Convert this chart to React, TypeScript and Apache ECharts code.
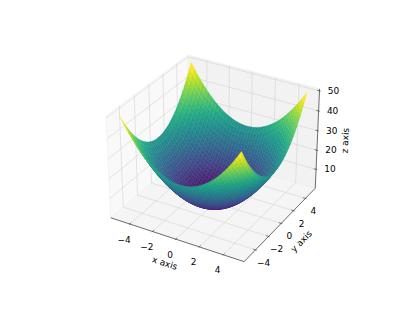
import React, { useEffect, useRef } from "react";
import * as echarts from "echarts";

const gridX = [-5,-4.75,-4.5,-4.25,-4,-3.75,-3.5,-3.25,-3,-2.75,-2.5,-2.25,-2,-1.75,-1.5,-1.25,-1,-0.75,-0.5,-0.25,0,0.25,0.5,0.75,1,1.25,1.5,1.75,2,2.25,2.5,2.75,3,3.25,3.5,3.75,4,4.25,4.5,4.75,5];
const gridY = gridX;
const r0=[50,47.56,45.25,43.06,41,39.06,37.25,35.56,34,32.56,31.25,30.06,29,28.06,27.25,26.56,26,25.56,25.25,25.06,25,25.06,25.25,25.56,26,26.56,27.25,28.06,29,30.06,31.25,32.56,34,35.56,37.25,39.06,41,43.06,45.25,47.56,50];
const r1=[47.56,45.13,42.81,40.63,38.56,36.63,34.81,33.13,31.56,30.13,28.81,27.63,26.56,25.63,24.81,24.13,23.56,23.13,22.81,22.63,22.56,22.63,22.81,23.13,23.56,24.13,24.81,25.63,26.56,27.63,28.81,30.13,31.56,33.13,34.81,36.63,38.56,40.63,42.81,45.13,47.56];
const r2=[45.25,42.81,40.5,38.31,36.25,34.31,32.5,30.81,29.25,27.81,26.5,25.31,24.25,23.31,22.5,21.81,21.25,20.81,20.5,20.31,20.25,20.31,20.5,20.81,21.25,21.81,22.5,23.31,24.25,25.31,26.5,27.81,29.25,30.81,32.5,34.31,36.25,38.31,40.5,42.81,45.25];
const r3=[43.06,40.63,38.31,36.13,34.06,32.13,30.31,28.63,27.06,25.63,24.31,23.13,22.06,21.13,20.31,19.63,19.06,18.63,18.31,18.13,18.06,18.13,18.31,18.63,19.06,19.63,20.31,21.13,22.06,23.13,24.31,25.63,27.06,28.63,30.31,32.13,34.06,36.13,38.31,40.63,43.06];
const r4=[41,38.56,36.25,34.06,32,30.06,28.25,26.56,25,23.56,22.25,21.06,20,19.06,18.25,17.56,17,16.56,16.25,16.06,16,16.06,16.25,16.56,17,17.56,18.25,19.06,20,21.06,22.25,23.56,25,26.56,28.25,30.06,32,34.06,36.25,38.56,41];
const r5=[39.06,36.63,34.31,32.13,30.06,28.13,26.31,24.63,23.06,21.63,20.31,19.13,18.06,17.13,16.31,15.63,15.06,14.63,14.31,14.13,14.06,14.13,14.31,14.63,15.06,15.63,16.31,17.13,18.06,19.13,20.31,21.63,23.06,24.63,26.31,28.13,30.06,32.13,34.31,36.63,39.06];
const r6=[37.25,34.81,32.5,30.31,28.25,26.31,24.5,22.81,21.25,19.81,18.5,17.31,16.25,15.31,14.5,13.81,13.25,12.81,12.5,12.31,12.25,12.31,12.5,12.81,13.25,13.81,14.5,15.31,16.25,17.31,18.5,19.81,21.25,22.81,24.5,26.31,28.25,30.31,32.5,34.81,37.25];
const r7=[35.56,33.13,30.81,28.63,26.56,24.63,22.81,21.13,19.56,18.13,16.81,15.63,14.56,13.63,12.81,12.13,11.56,11.13,10.81,10.63,10.56,10.63,10.81,11.13,11.56,12.13,12.81,13.63,14.56,15.63,16.81,18.13,19.56,21.13,22.81,24.63,26.56,28.63,30.81,33.13,35.56];
const r8=[34,31.56,29.25,27.06,25,23.06,21.25,19.56,18,16.56,15.25,14.06,13,12.06,11.25,10.56,10,9.56,9.25,9.06,9,9.06,9.25,9.56,10,10.56,11.25,12.06,13,14.06,15.25,16.56,18,19.56,21.25,23.06,25,27.06,29.25,31.56,34];
const r9=[32.56,30.13,27.81,25.63,23.56,21.63,19.81,18.13,16.56,15.13,13.81,12.63,11.56,10.63,9.81,9.13,8.56,8.13,7.81,7.63,7.56,7.63,7.81,8.13,8.56,9.13,9.81,10.63,11.56,12.63,13.81,15.13,16.56,18.13,19.81,21.63,23.56,25.63,27.81,30.13,32.56];
const r10=[31.25,28.81,26.5,24.31,22.25,20.31,18.5,16.81,15.25,13.81,12.5,11.31,10.25,9.31,8.5,7.81,7.25,6.81,6.5,6.31,6.25,6.31,6.5,6.81,7.25,7.81,8.5,9.31,10.25,11.31,12.5,13.81,15.25,16.81,18.5,20.31,22.25,24.31,26.5,28.81,31.25];
const r11=[30.06,27.63,25.31,23.13,21.06,19.13,17.31,15.63,14.06,12.63,11.31,10.13,9.06,8.13,7.31,6.63,6.06,5.63,5.31,5.13,5.06,5.13,5.31,5.63,6.06,6.63,7.31,8.13,9.06,10.13,11.31,12.63,14.06,15.63,17.31,19.13,21.06,23.13,25.31,27.63,30.06];
const r12=[29,26.56,24.25,22.06,20,18.06,16.25,14.56,13,11.56,10.25,9.06,8,7.06,6.25,5.56,5,4.56,4.25,4.06,4,4.06,4.25,4.56,5,5.56,6.25,7.06,8,9.06,10.25,11.56,13,14.56,16.25,18.06,20,22.06,24.25,26.56,29];
const r13=[28.06,25.63,23.31,21.13,19.06,17.13,15.31,13.63,12.06,10.63,9.31,8.13,7.06,6.13,5.31,4.63,4.06,3.63,3.31,3.13,3.06,3.13,3.31,3.63,4.06,4.63,5.31,6.13,7.06,8.13,9.31,10.63,12.06,13.63,15.31,17.13,19.06,21.13,23.31,25.63,28.06];
const r14=[27.25,24.81,22.5,20.31,18.25,16.31,14.5,12.81,11.25,9.81,8.5,7.31,6.25,5.31,4.5,3.81,3.25,2.81,2.5,2.31,2.25,2.31,2.5,2.81,3.25,3.81,4.5,5.31,6.25,7.31,8.5,9.81,11.25,12.81,14.5,16.31,18.25,20.31,22.5,24.81,27.25];
const r15=[26.56,24.13,21.81,19.63,17.56,15.63,13.81,12.13,10.56,9.13,7.81,6.63,5.56,4.63,3.81,3.13,2.56,2.13,1.81,1.63,1.56,1.63,1.81,2.13,2.56,3.13,3.81,4.63,5.56,6.63,7.81,9.13,10.56,12.13,13.81,15.63,17.56,19.63,21.81,24.13,26.56];
const r16=[26,23.56,21.25,19.06,17,15.06,13.25,11.56,10,8.56,7.25,6.06,5,4.06,3.25,2.56,2,1.56,1.25,1.06,1,1.06,1.25,1.56,2,2.56,3.25,4.06,5,6.06,7.25,8.56,10,11.56,13.25,15.06,17,19.06,21.25,23.56,26];
const r17=[25.56,23.13,20.81,18.63,16.56,14.63,12.81,11.13,9.56,8.13,6.81,5.63,4.56,3.63,2.81,2.13,1.56,1.13,0.81,0.63,0.56,0.63,0.81,1.13,1.56,2.13,2.81,3.63,4.56,5.63,6.81,8.13,9.56,11.13,12.81,14.63,16.56,18.63,20.81,23.13,25.56];
const r18=[25.25,22.81,20.5,18.31,16.25,14.31,12.5,10.81,9.25,7.81,6.5,5.31,4.25,3.31,2.5,1.81,1.25,0.81,0.5,0.31,0.25,0.31,0.5,0.81,1.25,1.81,2.5,3.31,4.25,5.31,6.5,7.81,9.25,10.81,12.5,14.31,16.25,18.31,20.5,22.81,25.25];
const r19=[25.06,22.63,20.31,18.13,16.06,14.13,12.31,10.63,9.06,7.63,6.31,5.13,4.06,3.13,2.31,1.63,1.06,0.63,0.31,0.13,0.06,0.13,0.31,0.63,1.06,1.63,2.31,3.13,4.06,5.13,6.31,7.63,9.06,10.63,12.31,14.13,16.06,18.13,20.31,22.63,25.06];
const r20=[25,22.56,20.25,18.06,16,14.06,12.25,10.56,9,7.56,6.25,5.06,4,3.06,2.25,1.56,1,0.56,0.25,0.06,0,0.06,0.25,0.56,1,1.56,2.25,3.06,4,5.06,6.25,7.56,9,10.56,12.25,14.06,16,18.06,20.25,22.56,25];
const gridZ = [r0,r1,r2,r3,r4,r5,r6,r7,r8,r9,r10,r11,r12,r13,r14,r15,r16,r17,r18,r19,r20,r19,r18,r17,r16,r15,r14,r13,r12,r11,r10,r9,r8,r7,r6,r5,r4,r3,r2,r1,r0];
const xTicks = [-4,-2,0,2,4];
const yTicks = [-4,-2,0,2,4];
const zTicks = [10,20,30,40,50];
const viridis = ["#440154","#482475","#414487","#355f8d","#2a788e","#21918c","#22a884","#44bf70","#7ad151","#bddf26","#fde725"];

const XMIN=-5.7, XMAX=5.7, YMIN=-5.7, YMAX=5.7, ZMIN=0, ZMAX=51;
const BOX=[1.1429,1.1429,0.8571];
const el=30*Math.PI/180, az=-60*Math.PI/180, DIST=10;
const R=BOX.map(v=>v/2);
const w=[Math.cos(el)*Math.cos(az),Math.cos(el)*Math.sin(az),Math.sin(el)];
const E=R.map((v,i)=>v+DIST*w[i]);
const cross=(a:number[],b:number[])=>[a[1]*b[2]-a[2]*b[1],a[2]*b[0]-a[0]*b[2],a[0]*b[1]-a[1]*b[0]];
const dot=(a:number[],b:number[])=>a[0]*b[0]+a[1]*b[1]+a[2]*b[2];
const u0=cross([0,0,1],w); const un=Math.sqrt(dot(u0,u0)); const u=u0.map(v=>v/un);
const v=cross(w,u);
function proj(x:number,y:number,z:number){
  const P=[(x-XMIN)/(XMAX-XMIN)*BOX[0],(y-YMIN)/(YMAX-YMIN)*BOX[1],(z-ZMIN)/(ZMAX-ZMIN)*BOX[2]];
  const D=P.map((c,i)=>c-E[i]);
  const depth=-dot(w,D);
  return [dot(u,D)/depth,dot(v,D)/depth,depth];
}
function color(t:number){
  const s=Math.max(0,Math.min(1,t))*(viridis.length-1);
  const i=Math.min(viridis.length-2,Math.floor(s));
  const f=s-i;
  const h=(c:string,k:number)=>parseInt(c.substr(k,2),16);
  const mix=(k:number)=>Math.round(h(viridis[i],k)*(1-f)+h(viridis[i+1],k)*f);
  return `rgb(${mix(1)},${mix(3)},${mix(5)})`;
}
type Cell={i:number;j:number;mean:number;depth:number;cx:number;cy:number};
const cells:Cell[]=[];
for(let i=0;i<gridX.length-1;i++)for(let j=0;j<gridY.length-1;j++){
  const corners=[[i,j],[i+1,j],[i+1,j+1],[i,j+1]];
  const ps=corners.map(([a,b])=>proj(gridX[a],gridY[b],gridZ[a][b]));
  cells.push({i,j,mean:corners.reduce((s,[a,b])=>s+gridZ[a][b],0)/4,
    depth:ps.reduce((s,p)=>s+p[2],0)/4,cx:ps[0][0],cy:ps[0][1]});
}
cells.sort((a,b)=>b.depth-a.depth);
const meanMin=Math.min(...cells.map(c=>c.mean));
const meanMax=Math.max(...cells.map(c=>c.mean));

const FONT="DejaVu Sans";
const FS=8.96;
const baseSeries={type:"custom",coordinateSystem:"cartesian2d",clip:false,silent:true,animation:false,encode:{x:0,y:1}};

function paneItem(api:any,pts:number[][],fill:string,stroke:string){
  return {type:"polygon",shape:{points:pts.map(p=>{const q=proj(p[0],p[1],p[2]);return api.coord([q[0],q[1]]);})},style:{fill,stroke,lineWidth:0.6}};
}
function seg(api:any,a:number[],b:number[],stroke:string,lineWidth:number){
  const p=proj(a[0],a[1],a[2]),q=proj(b[0],b[1],b[2]);
  const s=api.coord([p[0],p[1]]),e=api.coord([q[0],q[1]]);
  return {type:"line",shape:{x1:s[0],y1:s[1],x2:e[0],y2:e[1]},style:{stroke,lineWidth,fill:"none"}};
}
const GRID="#cfcfcf";
const GW=0.55;
function label(api:any,pos:number[],dx:number,dy:number,text:string,rotation=0){
  const p=proj(pos[0],pos[1],pos[2]);
  const c=api.coord([p[0],p[1]]);
  return {type:"text",x:c[0]+dx,y:c[1]+dy,rotation,style:{text,fill:"#000",fontSize:FS,fontFamily:FONT,textAlign:"center",textVerticalAlign:"middle"}};
}
const minus=(n:number)=>(n<0?"\u2212"+Math.abs(n):String(n));
const tx=0.1,ty=0.1,tz=0.1;

export default function App(){
  const ref=useRef<HTMLDivElement>(null);
  useEffect(()=>{
    document.body.style.margin="0";
    const chart=echarts.init(ref.current!,undefined,{renderer:"svg"});
    chart.setOption({
      animation:false,
      backgroundColor:"#fff",
      grid:{left:87.7,top:31.6,width:247.5,height:250.6,show:false},
      xAxis:{type:"value",min:-0.095,max:0.09,show:false},
      yAxis:{type:"value",min:-0.095,max:0.09,show:false},
      series:[
        {...baseSeries,z:1,data:[[0,0]],renderItem:(_:any,api:any)=>({type:"group",children:[
          paneItem(api,[[XMIN,YMIN,ZMIN],[XMAX,YMIN,ZMIN],[XMAX,YMAX,ZMIN],[XMIN,YMAX,ZMIN]],"#f5f5f5","#ededed"),
          paneItem(api,[[XMIN,YMIN,ZMIN],[XMIN,YMAX,ZMIN],[XMIN,YMAX,ZMAX],[XMIN,YMIN,ZMAX]],"#f9f9f9","#ededed"),
          paneItem(api,[[XMIN,YMAX,ZMIN],[XMAX,YMAX,ZMIN],[XMAX,YMAX,ZMAX],[XMIN,YMAX,ZMAX]],"#f2f2f2","#ededed"),
          ...xTicks.flatMap(t=>[seg(api,[t,YMIN,ZMIN],[t,YMAX,ZMIN],GRID,GW),seg(api,[t,YMAX,ZMIN],[t,YMAX,ZMAX],GRID,GW)]),
          ...yTicks.flatMap(t=>[seg(api,[XMAX,t,ZMIN],[XMIN,t,ZMIN],GRID,GW),seg(api,[XMIN,t,ZMIN],[XMIN,t,ZMAX],GRID,GW)]),
          ...zTicks.flatMap(t=>[seg(api,[XMIN,YMIN,t],[XMIN,YMAX,t],GRID,GW),seg(api,[XMIN,YMAX,t],[XMAX,YMAX,t],GRID,GW)]),
          seg(api,[XMIN,YMIN,ZMIN],[XMAX,YMIN,ZMIN],"#333",0.7),
          seg(api,[XMAX,YMIN,ZMIN],[XMAX,YMAX,ZMIN],"#333",0.7),
          seg(api,[XMAX,YMAX,ZMIN],[XMAX,YMAX,ZMAX],"#333",0.7),
          ...xTicks.map(t=>seg(api,[t,YMIN+ty*2,ZMIN],[t,YMIN-ty,ZMIN],"#333",0.6)),
          ...yTicks.map(t=>seg(api,[XMAX-tx*2,t,ZMIN],[XMAX+tx,t,ZMIN],"#333",0.6)),
          ...zTicks.map(t=>seg(api,[XMAX-tz*2,YMAX,t],[XMAX+tz,YMAX,t],"#333",0.6)),
        ]} as any)},
        {...baseSeries,z:2,data:cells.map(c=>[c.cx,c.cy,c.mean]),renderItem:(p:any,api:any)=>{
          const c=cells[p.dataIndex];
          const col=color((c.mean-meanMin)/(meanMax-meanMin));
          const pts=[[c.i,c.j],[c.i+1,c.j],[c.i+1,c.j+1],[c.i,c.j+1]].map(([a,b])=>{
            const q=proj(gridX[a],gridY[b],gridZ[a][b]);
            return api.coord([q[0],q[1]]);
          });
          return {type:"polygon",shape:{points:pts},style:{fill:col,stroke:col,lineWidth:0.4}} as any;
        }},
        {...baseSeries,z:3,data:[[0,0]],renderItem:(_:any,api:any)=>({type:"group",children:[
          ...xTicks.map(t=>label(api,[t,YMIN,ZMIN],-5.7,15.5,minus(t))),
          ...yTicks.map(t=>label(api,[XMAX,t,ZMIN],8,13,minus(t))),
          ...zTicks.map(t=>label(api,[XMAX,YMAX,t],14,0,minus(t))),
          label(api,[0,YMIN,ZMIN],-11,24,"x axis",-0.315),
          label(api,[XMAX,0,ZMIN],20,18,"y axis",0.785),
          label(api,[XMAX,YMAX,25],28,0,"z axis",1.525),
        ]} as any)},
      ],
    } as any);
    return ()=>chart.dispose();
  },[]);
  return <div ref={ref} style={{position:"absolute",left:0,top:0,width:413,height:310}}/>;
}
